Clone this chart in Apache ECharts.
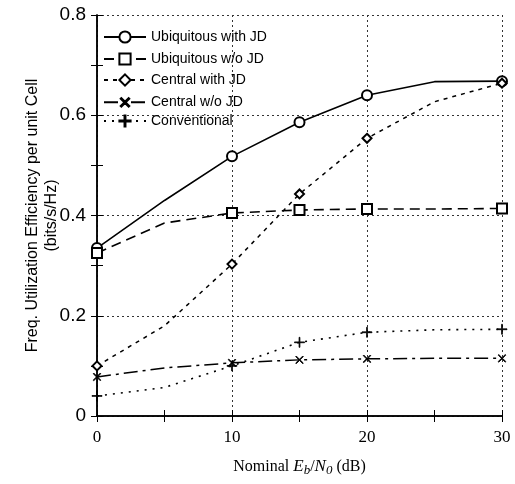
<!DOCTYPE html>
<html><head><meta charset="utf-8">
<script src="https://cdn.jsdelivr.net/npm/echarts@6/dist/echarts.min.js"></script>
<style>html,body{margin:0;padding:0;background:#fff}#c{width:515px;height:484px}</style>
</head><body><div id="c"></div>
<script>
const xValues = [0, 5, 10, 15, 20, 25, 30];
const ubiqWithJD = [0.335, 0.43, 0.518, 0.586, 0.640, 0.667, 0.668];
const ubiqWoJD = [0.325, 0.385, 0.405, 0.411, 0.413, 0.413, 0.414];
const centralWithJD = [0.100, 0.180, 0.303, 0.443, 0.554, 0.627, 0.664];
const centralWoJD = [0.078, 0.096, 0.106, 0.112, 0.114, 0.115, 0.115];
const conventional = [0.040, 0.057, 0.100, 0.147, 0.167, 0.172, 0.173];
const seriesNames = ['Ubiquitous with JD', 'Ubiquitous w/o JD', 'Central with JD', 'Central w/o JD', 'Conventional'];
const xTickLabels = ['0', '10', '20', '30'];
const yTickLabels = ['0', '0.2', '0.4', '0.6', '0.8'];

const noMarkerAt = [5, 25];
const plusPath = 'path://M-0.5,-6 L0.5,-6 L0.5,-0.5 L6,-0.5 L6,0.5 L0.5,0.5 L0.5,6 L-0.5,6 L-0.5,0.5 L-6,0.5 L-6,-0.5 L-0.5,-0.5 Z';

function mk(vals) {
  return xValues.map((x, i) => {
    const d = { value: [x, vals[i]] };
    if (noMarkerAt.includes(x)) d.symbol = 'none';
    return d;
  });
}

const styles = [
  { symbol: 'emptyCircle', size: 10, type: 'solid', width: 1.6 },
  { symbol: 'emptyRect', size: 10, type: [10, 6], width: 1.6 },
  { symbol: 'emptyDiamond', size: 9, type: [4, 5], width: 1.5 },
  { symbol: plusPath, size: 10, rotate: 45, type: [14, 5, 3, 5], width: 1.5 },
  { symbol: plusPath, size: 10, rotate: 0, type: [2, 6], width: 1.6 }
];
const allData = [ubiqWithJD, ubiqWoJD, centralWithJD, centralWoJD, conventional];

const series = allData.map((vals, i) => {
  const s = styles[i];
  return {
    name: seriesNames[i],
    type: 'line',
    xAxisIndex: 0, yAxisIndex: 0,
    data: mk(vals),
    symbol: s.symbol,
    symbolSize: s.size,
    symbolRotate: s.rotate || 0,
    showAllSymbol: true,
    color: '#000',
    itemStyle: { color: '#000', borderColor: '#000', borderWidth: s.symbol.startsWith('path') ? 0.8 : 1.4 },
    lineStyle: { color: '#000', width: s.width, type: s.type },
    animation: false,
    z: 3
  };
});

const font = 'Liberation Sans, Arial, sans-serif';
const serif = 'Liberation Serif, Times New Roman, serif';
const gridLine = { show: true, lineStyle: { color: '#333', type: [2, 3], width: 1 } };
const tick = { show: true, inside: true, length: 6, lineStyle: { color: '#000' } };
const line = { show: true, lineStyle: { color: '#000', width: 1.5 } };

const legendTops = [25, 47, 68, 88, 109];
const legends = seriesNames.map((n, i) => ({
  orient: 'vertical', left: 98, top: legendTops[i],
  itemWidth: 42, itemHeight: 14,
  textStyle: { fontFamily: font, fontSize: 14, color: '#000' },
  data: [n]
}));

const option = {
  backgroundColor: '#fff',
  animation: false,
  grid: { left: 97, right: 13, top: 15, bottom: 68, containLabel: false },
  legend: legends,
  xAxis: [
    {
      type: 'value', min: 0, max: 30, interval: 5, position: 'bottom',
      axisLine: line, axisTick: tick, splitLine: { show: false },
      axisLabel: { fontFamily: serif, fontSize: 17, color: '#000', margin: 13,
        formatter: v => (v % 10 === 0 ? xTickLabels[v / 10] : '') },
      name: '{n|Nominal }{i|E}{s|b}{n|/}{i|N}{s|0}{n| (dB)}',
      nameLocation: 'middle', nameGap: 40, nameMoveOverlap: false,
      nameTextStyle: {
        rich: {
          n: { fontFamily: serif, fontSize: 16, color: '#000' },
          i: { fontFamily: serif, fontSize: 17, fontStyle: 'italic', color: '#000' },
          s: { fontFamily: serif, fontSize: 13, fontStyle: 'italic', color: '#000', padding: [8, 0, 0, 0] }
        }
      }
    },
    {
      type: 'value', min: 0, max: 30, interval: 5, position: 'top',
      axisLine: line, axisTick: tick, splitLine: { show: false }, axisLabel: { show: false }
    },
    {
      type: 'value', min: 0, max: 30, interval: 10, position: 'bottom',
      axisLine: { show: false }, axisTick: { show: false }, axisLabel: { show: false },
      splitLine: gridLine
    }
  ],
  yAxis: [
    {
      type: 'value', min: 0, max: 0.8, interval: 0.1, position: 'left',
      axisLine: line, axisTick: tick, splitLine: { show: false },
      axisLabel: { fontFamily: font, fontSize: 19, color: '#000', margin: 11,
        formatter: v => { const k = Math.round(v * 10); return k % 2 === 0 ? yTickLabels[k / 2] : ''; } },
      name: 'Freq. Utilization Efficiency per unit Cell\n(bits/s/Hz)',
      nameLocation: 'middle', nameGap: 36, nameMoveOverlap: false,
      nameTextStyle: { fontFamily: font, fontSize: 16, color: '#000', lineHeight: 19 }
    },
    {
      type: 'value', min: 0, max: 0.8, interval: 0.1, position: 'right',
      axisLine: line, axisTick: tick, splitLine: { show: false }, axisLabel: { show: false }
    },
    {
      type: 'value', min: 0, max: 0.8, interval: 0.2, position: 'left',
      axisLine: { show: false }, axisTick: { show: false }, axisLabel: { show: false },
      splitLine: gridLine
    }
  ],
  series: series
};
const chart = echarts.init(document.getElementById('c'), null, { renderer: 'canvas' });
chart.setOption(option);
</script></body></html>
